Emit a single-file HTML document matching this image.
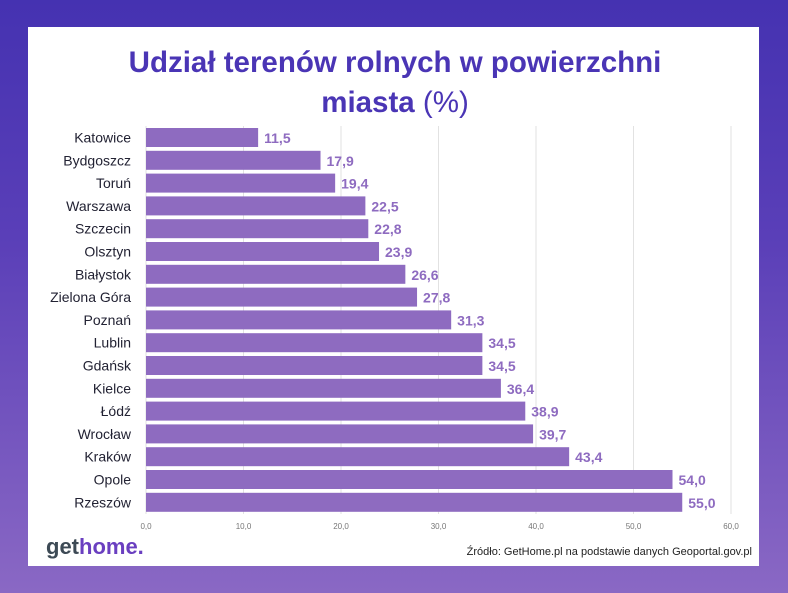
<!DOCTYPE html>
<html><head><meta charset="utf-8"><style>
html,body{margin:0;padding:0}
body{width:788px;height:593px;overflow:hidden;background:linear-gradient(180deg,#4532b1 0%,#5a3fb8 40%,#8a68c4 100%);font-family:"Liberation Sans",sans-serif;position:relative}
#card{position:absolute;left:28px;top:27px;width:731px;height:539px;background:#fff}
</style></head><body>
<div id="card">
<svg width="731" height="539" viewBox="28 27 731 539" xmlns="http://www.w3.org/2000/svg" id="svg">
<text x="395" y="72" text-anchor="middle" font-family="Liberation Sans" font-weight="bold" font-size="29.5" fill="#4a35b5">Udział terenów rolnych w powierzchni</text>
<text x="395" y="112" text-anchor="middle" font-family="Liberation Sans" font-size="29.5" fill="#4a35b5"><tspan font-weight="bold">miasta</tspan> (%)</text>
<g id="grid"></g><g id="bars"></g>
<text x="46" y="554" font-family="Liberation Sans" font-weight="bold" font-size="22"><tspan fill="#3d4a55">get</tspan><tspan fill="#6a3fc0">home.</tspan></text>
<text x="752" y="555" text-anchor="end" font-family="Liberation Sans" font-size="11" fill="#222">Źródło: GetHome.pl na podstawie danych Geoportal.gov.pl</text>
</svg></div>
<script>
const cities=["Katowice","Bydgoszcz","Toruń","Warszawa","Szczecin","Olsztyn","Białystok","Zielona Góra","Poznań","Lublin","Gdańsk","Kielce","Łódź","Wrocław","Kraków","Opole","Rzeszów"];
const values=[11.5,17.9,19.4,22.5,22.8,23.9,26.6,27.8,31.3,34.5,34.5,36.4,38.9,39.7,43.4,54.0,55.0];
const ticks=[0,10,20,30,40,50,60];
const NS="http://www.w3.org/2000/svg";
const x=v=>146+v*(731-146)/60;
const y=i=>137.5+i*22.8;
const g=document.getElementById('grid'),b=document.getElementById('bars');
function el(t,a,p){const e=document.createElementNS(NS,t);for(const k in a)e.setAttribute(k,a[k]);p.appendChild(e);return e;}
ticks.forEach(t=>{
 const l=el('line',{x1:x(t),x2:x(t),y1:126,y2:514,stroke:'#e2e2e2','stroke-width':1},g);
 
 
 const tx=el('text',{x:x(t),y:529,'text-anchor':'middle','font-size':8,fill:'#777'},g);
 tx.textContent=t.toFixed(1).replace('.',',');
 
 
});
cities.forEach((c,i)=>{
 const r=el('rect',{x:x(0),y:y(i)-9.5,width:x(values[i])-x(0),height:19,fill:'#8e6bc0'},b);
 
 
 const lb=el('text',{x:131,y:y(i)+5,'text-anchor':'end','font-size':14,fill:'#222233'},b);
 lb.textContent=c;
 
 
 const v=el('text',{x:x(values[i])+6,y:y(i)+5.5,'font-size':14,'font-weight':'bold',fill:'#8e6bc0'},b);
 v.textContent=values[i].toFixed(1).replace('.',',');
 
 
});
</script>
</body></html>
